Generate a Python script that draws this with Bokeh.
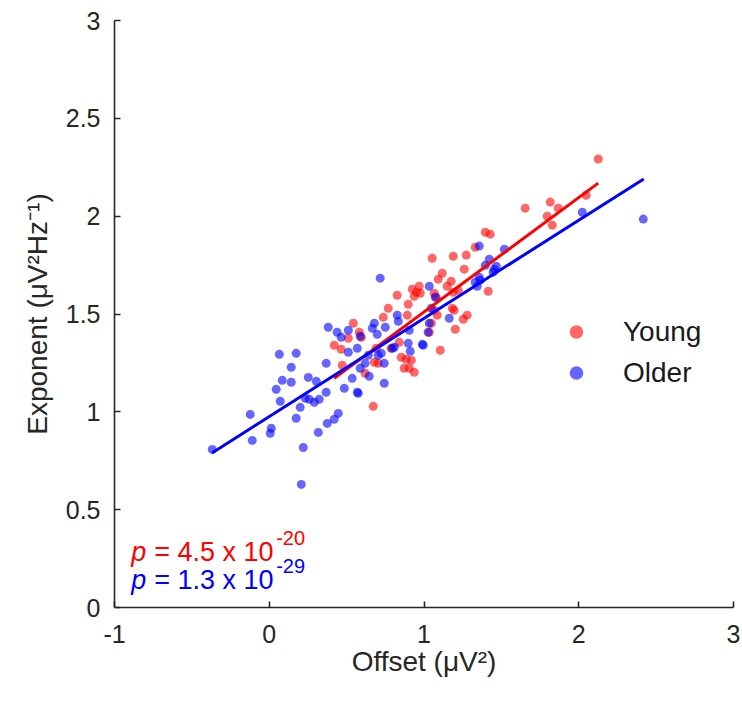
from bokeh.plotting import figure
from bokeh.models import Label, Legend, LegendItem, FixedTicker, ColumnDataSource
from bokeh.embed import file_html
from bokeh.resources import INLINE

# ---- data ----
young_offset = [2.126, 1.654, 1.816, 1.868, 2.048, 1.796, 1.829, 1.396, 1.428, 1.331,
                1.053, 1.189, 1.273, 1.260, 1.118, 1.092, 1.176, 1.150, 0.969, 0.924,
                0.950, 0.937, 1.066, 1.189, 1.221, 1.415, 0.898, 1.183, 1.066, 0.827,
                0.976, 0.769, 0.737, 0.892, 0.543, 0.582, 0.511, 0.595, 1.086, 1.254,
                1.279, 1.202, 1.034, 1.047, 1.105, 0.420, 0.465, 0.691, 0.679, 0.704,
                0.620, 0.672, 0.472, 0.840, 0.788, 0.853, 0.885, 0.918, 0.872, 0.905,
                0.937, 1.079, 1.195]
young_exponent = [2.292, 2.041, 2.072, 2.041, 2.107, 2.000, 1.954, 1.918, 1.908, 1.841,
                  1.785, 1.795, 1.801, 1.729, 1.708, 1.678, 1.668, 1.642, 1.642, 1.627,
                  1.611, 1.591, 1.606, 1.611, 1.621, 1.616, 1.550, 1.529, 1.519, 1.596,
                  1.606, 1.529, 1.483, 1.494, 1.453, 1.407, 1.376, 1.381, 1.494, 1.473,
                  1.494, 1.422, 1.407, 1.453, 1.315, 1.340, 1.320, 1.325, 1.253, 1.248,
                  1.197, 1.028, 1.238, 1.355, 1.325, 1.279, 1.269, 1.263, 1.223, 1.223,
                  1.202, 1.586, 1.519]

older_offset = [2.417, 2.023, 1.357, 1.519, 1.422, 1.396, 1.467, 1.454, 1.357, 1.331,
                1.344, 1.034, 1.073, 1.047, 1.163, 1.027, 1.034, 0.995, 0.717, 0.827,
                0.834, 0.679, 0.666, 0.381, 0.439, 0.511, 0.750, 0.698, 0.588, 0.465,
                0.989, 0.898, 0.911, 0.795, 0.743, 0.724, 0.704, 0.646, 0.536, 0.569,
                0.485, 0.368, 0.252, 0.304, 0.368, 0.446, 0.420, 0.375, 0.317, -0.368,
                -0.123, -0.110, 0.013, 0.006, 0.065, 0.174, 0.142, 0.084, 0.142, 0.045,
                0.071, 0.174, 0.220, 0.207, 0.200, 0.233, 0.258, 0.323, 0.291, 0.511,
                0.575, 0.569, 0.620, 0.588, 0.743, 0.640, 0.808, 0.905, 1.447, 1.363]
older_exponent = [1.985, 2.020, 1.847, 1.831, 1.780, 1.749, 1.744, 1.729, 1.688, 1.662,
                  1.642, 1.642, 1.586, 1.529, 1.478, 1.407, 1.453, 1.340, 1.683, 1.494,
                  1.463, 1.453, 1.427, 1.432, 1.407, 1.417, 1.432, 1.396, 1.386, 1.381,
                  1.345, 1.350, 1.309, 1.325, 1.248, 1.299, 1.289, 1.182, 1.171, 1.100,
                  1.120, 1.248, 1.176, 1.156, 1.100, 0.992, 0.962, 0.941, 0.895, 0.808,
                  0.987, 0.854, 0.916, 0.890, 1.294, 1.299, 1.228, 1.161, 1.151, 1.115,
                  1.054, 0.967, 0.818, 0.629, 1.023, 1.069, 1.064, 1.064, 1.049, 1.304,
                  1.095, 1.325, 1.248, 1.223, 1.146, 1.289, 1.330, 1.417, 1.714, 1.673]

young_fit_x = [0.42, 2.126]
young_fit_y = [1.171, 2.169]
older_fit_x = [-0.37, 2.42]
older_fit_y = [0.79, 2.19]

x_ticks = [-1, 0, 1, 2, 3]
x_tick_labels = ["-1", "0", "1", "2", "3"]
y_ticks = [0, 0.5, 1, 1.5, 2, 2.5, 3]
y_tick_labels = ["0", "0.5", "1", "1.5", "2", "2.5", "3"]

FONT = "Liberation Sans"
INK = "#262626"
RED = "#ff0000"
BLUE = "#0000ff"

p = figure(width=740, height=705, x_range=(-1, 3), y_range=(0, 3),
           output_backend="svg", toolbar_location=None,
           min_border_left=114, min_border_right=7, min_border_top=20, min_border_bottom=98)
p.outline_line_color = None
p.xgrid.grid_line_color = None
p.ygrid.grid_line_color = None

young_src = ColumnDataSource(dict(x=young_offset, y=young_exponent))
older_src = ColumnDataSource(dict(x=older_offset, y=older_exponent))

r_young = p.scatter("x", "y", source=young_src, size=9, fill_color=RED, fill_alpha=0.6, line_color=None)
r_older = p.scatter("x", "y", source=older_src, size=9, fill_color=BLUE, fill_alpha=0.6, line_color=None)
p.line(young_fit_x, young_fit_y, line_color=RED, line_width=3)
p.line(older_fit_x, older_fit_y, line_color=BLUE, line_width=3)

for ax, ticks, labels in ((p.xaxis[0], x_ticks, x_tick_labels), (p.yaxis[0], y_ticks, y_tick_labels)):
    ax.ticker = FixedTicker(ticks=ticks)
    ax.major_label_overrides = {t: l for t, l in zip(ticks, labels)}
    ax.minor_tick_line_color = None
    ax.major_tick_in = 6
    ax.major_tick_out = 0
    ax.axis_line_color = INK
    ax.axis_line_width = 1.6
    ax.major_tick_line_color = INK
    ax.major_tick_line_width = 1.6
    ax.major_label_text_font = FONT
    ax.major_label_text_font_size = "25px"
    ax.major_label_text_color = INK
    ax.axis_label_text_font = FONT
    ax.axis_label_text_font_size = "28px"
    ax.axis_label_text_font_style = "normal"
    ax.axis_label_text_color = INK

p.xaxis.axis_label = "Offset (\u03bcV\u00b2)"
p.yaxis.axis_label = "Exponent (\u03bcV\u00b2Hz\u207b\u00b9)"
p.xaxis.major_label_standoff = 17
p.yaxis.major_label_standoff = 14
p.xaxis.axis_label_standoff = 0
p.yaxis.axis_label_standoff = 10

legend = Legend(items=[LegendItem(label="Young", renderers=[r_young]),
                       LegendItem(label="Older", renderers=[r_older])],
                location=(445, 214), orientation="vertical",
                glyph_width=34, glyph_height=41, label_height=41, spacing=0,
                padding=0, margin=0, border_line_color=None, background_fill_alpha=0,
                label_standoff=30, label_text_font=FONT, label_text_font_size="28px",
                label_text_color="#1a1a1a")
p.add_layout(legend)

# p-value annotations
for color, yb, mant, expo in ((RED, 0.282, "4.5", "-20"), (BLUE, 0.141, "1.3", "-29")):
    p.add_layout(Label(x=-0.892, y=yb, text="p", text_font=FONT, text_font_size="27px",
                       text_font_style="italic", text_color=color, text_baseline="alphabetic"))
    p.add_layout(Label(x=-0.892, y=yb, x_offset=23, text="= " + mant + " x 10", text_font=FONT,
                       text_font_size="27px", text_color=color, text_baseline="alphabetic"))
    p.add_layout(Label(x=-0.892, y=yb, x_offset=145, y_offset=14, text=expo, text_font=FONT,
                       text_font_size="20px", text_color=color, text_baseline="alphabetic"))

open("out.html", "w").write(file_html(p, INLINE))
